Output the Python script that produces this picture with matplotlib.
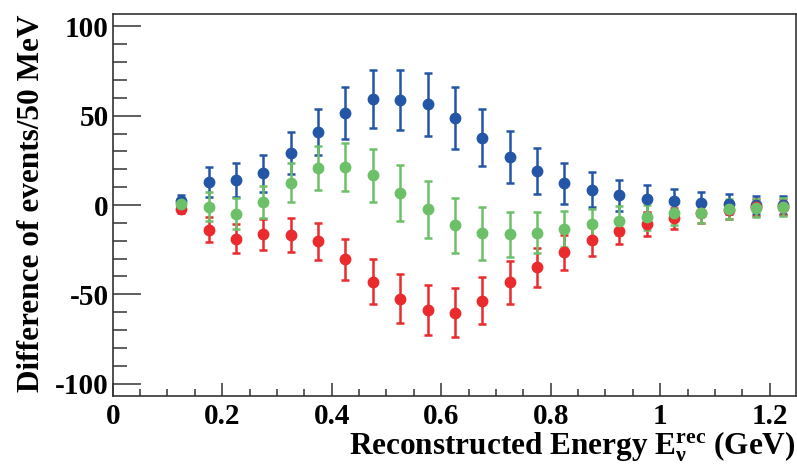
import numpy as np
import matplotlib
matplotlib.use("Agg")
import matplotlib.pyplot as plt
import matplotlib.ticker as ticker

# bin centres (GeV)
energy = [0.125, 0.175, 0.225, 0.275, 0.325, 0.375, 0.425, 0.475, 0.525, 0.575,
          0.625, 0.675, 0.725, 0.775, 0.825, 0.875, 0.925, 0.975, 1.025, 1.075,
          1.125, 1.175, 1.225]

blue_val = [2.0, 12.9, 13.8, 17.7, 29.3, 40.9, 51.3, 59.2, 58.8, 56.4,
            48.7, 37.7, 26.7, 19.0, 12.3, 8.6, 5.4, 3.4, 2.2, 1.3,
            0.7, 0.2, -0.2]
blue_err = [3.5, 8.5, 9.5, 10.5, 11.7, 13.0, 14.6, 16.2, 16.8, 17.5,
            17.2, 16.0, 14.5, 13.0, 11.5, 10.0, 8.8, 8.0, 6.5, 5.8,
            5.5, 5.0, 5.0]

green_val = [0.7, -0.9, -4.9, 1.7, 12.5, 20.7, 21.1, 16.6, 6.7, -2.4,
             -11.4, -15.9, -16.4, -15.5, -13.6, -10.8, -8.8, -6.9, -4.7, -4.3,
             -2.4, -1.9, -1.3]
green_err = [3.0, 8.0, 8.6, 9.0, 11.0, 12.2, 13.5, 14.7, 15.5, 16.0,
             15.5, 14.7, 12.6, 11.5, 10.2, 8.8, 8.0, 7.0, 6.5, 6.0,
             5.5, 5.0, 5.0]

red_val = [-2.4, -14.0, -18.8, -16.4, -17.0, -20.3, -30.4, -42.9, -52.4, -59.0,
           -60.3, -53.6, -43.3, -34.9, -26.5, -19.8, -14.6, -10.6, -7.5, -4.7,
           -2.8, -1.3, -0.9]
red_err = [2.0, 7.0, 8.0, 8.8, 9.5, 10.4, 11.6, 12.8, 13.5, 14.0,
           13.8, 13.2, 12.0, 11.0, 9.7, 8.6, 7.5, 6.8, 6.0, 5.5,
           5.0, 4.7, 4.5]

x_ticks = [0, 0.2, 0.4, 0.6, 0.8, 1.0, 1.2]
x_ticklabels = ["0", "0.2", "0.4", "0.6", "0.8", "1", "1.2"]
y_ticks = [-100, -50, 0, 50, 100]
y_ticklabels = ["-100", "-50", "0", "50", "100"]

plt.rcParams['font.family'] = ['Liberation Serif', 'DejaVu Serif']
plt.rcParams['font.weight'] = 'bold'
plt.rcParams['mathtext.fontset'] = 'custom'
plt.rcParams['mathtext.rm'] = 'Liberation Serif:bold'
plt.rcParams['mathtext.it'] = 'Liberation Serif:bold'
plt.rcParams['mathtext.bf'] = 'Liberation Serif:bold'

fig = plt.figure(figsize=(7.97, 4.70), dpi=100)
ax = fig.add_axes([112.7 / 797, 74 / 470, 683.3 / 797, 382 / 470])

style = dict(fmt='o', markersize=7.5, elinewidth=1.8, capsize=2.8, capthick=1.8)
for val, err, col in [(blue_val, blue_err, '#2356a6'),
                      (red_val, red_err, '#ea2a2c'),
                      (green_val, green_err, '#6cc068')]:
    ax.errorbar(energy, val, yerr=err, color=col, ecolor=col,
                markeredgecolor=col, **style)

ax.set_xlim(0, 1.248)
ax.set_ylim(-107, 107)

ax.set_xticks(x_ticks)
ax.set_xticklabels(x_ticklabels)
ax.xaxis.set_minor_locator(ticker.MultipleLocator(0.05))
ax.set_yticks(y_ticks)
ax.set_yticklabels(y_ticklabels)
ax.yaxis.set_minor_locator(ticker.MultipleLocator(10))

ax.tick_params(axis='both', which='both', direction='in', width=1.1,
               color='#333333', labelsize=21, top=False, right=False)
ax.tick_params(axis='y', which='major', length=20, pad=3)
ax.tick_params(axis='y', which='minor', length=10)
ax.tick_params(axis='x', which='major', length=9.5, pad=5)
ax.tick_params(axis='x', which='minor', length=5)
for lab in ax.get_xticklabels() + ax.get_yticklabels():
    lab.set_fontweight('bold')

for sp in ax.spines.values():
    sp.set_linewidth(1.2)
    sp.set_color('#333333')

fig.text(17 / 797, 1 - 14 / 470, "Difference of events/50 MeV", rotation=90,
         ha='left', va='top', fontsize=22.5, fontweight='bold')
fig.text(795 / 797, 1 - 455 / 470,
         r"Reconstructed Energy E$_{\nu}^{\mathrm{rec}}$ (GeV)",
         ha='right', va='baseline', fontsize=22.5, fontweight='bold')

fig.savefig("out.png", dpi=100)
